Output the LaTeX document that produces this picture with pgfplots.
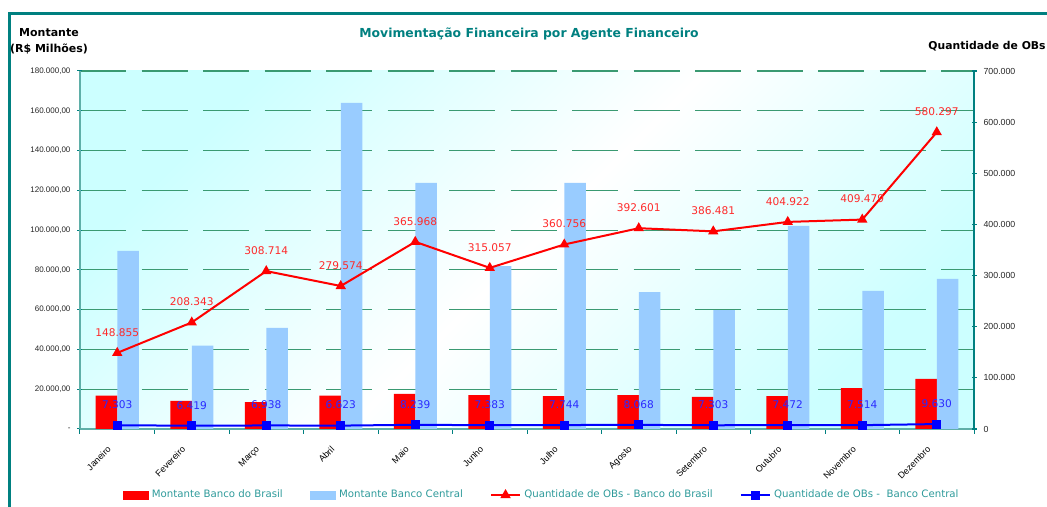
\documentclass[border=0pt]{standalone}
\usepackage{fontspec}
\setmainfont{DejaVu Sans}
\newfontfamily\lib{Liberation Sans}
\usepackage{pgfplots}
\pgfplotsset{compat=1.18}

\definecolor{tealf}{HTML}{008080}
\definecolor{axc}{HTML}{5FAFA8}
\definecolor{gridc}{HTML}{3A9A72}
\definecolor{lblue}{HTML}{99CCFF}
\definecolor{bgc}{HTML}{CCFFFF}
\definecolor{legc}{HTML}{2E9A9A}
\definecolor{lred}{HTML}{FF2A2A}
\definecolor{lblu}{HTML}{2A2AFF}

% 1px of the reference = 0.5pt here
\pgfplotsset{
  common/.style={
    at={(40pt,39pt)}, anchor=south west,
    width=447pt, height=179pt, scale only axis,
    xmin=-0.5, xmax=11.5, scaled y ticks=false,
  },
  barleg/.style={legend image code/.code={\fill[##1] (0pt,-2.25pt) rectangle (13pt,2.25pt);}},
  lineleg/.style={legend image code/.code={\draw[mark repeat=2, mark phase=2, ##1] plot coordinates {(0pt,0pt) (7.25pt,0pt) (14.5pt,0pt)};}},
}

\begin{document}
\begin{tikzpicture}
% outer frame
\draw[tealf, line width=1.2pt] (4.75pt,-10pt) |- (540pt,246.75pt);

% bars, left axis
\begin{axis}[common,
  ymin=0, ymax=180000,
  axis x line*=bottom, axis y line*=left,
  axis line style={draw=axc, line width=0.6pt},
  axis background/.style={top color=bgc, bottom color=bgc, middle color=white, shading angle=45},
  ytick={0,20000,...,180000},
  yticklabels={{-},{20.000,00},{40.000,00},{60.000,00},{80.000,00},{100.000,00},{120.000,00},{140.000,00},{160.000,00},{180.000,00}},
  yticklabel style={font=\lib\fontsize{4}{4}\selectfont, text=black!85},
  xtick={-0.5,0.5,...,11.5}, xticklabels={},
  tick align=center, major tick length=2.5pt,
  tick style={draw=tealf, line width=0.5pt},
  ymajorgrids,
  every axis grid/.style={draw=gridc, line width=0.6pt, dash pattern=on 23pt off 7.75pt},
  every major grid/.style={draw=gridc, line width=0.6pt, dash pattern=on 23pt off 7.75pt},
  ybar=0pt, bar width=10.75pt,
]
\addplot[fill=red, draw=none] coordinates {
  (0,16740) (1,14080) (2,13570) (3,16740) (4,17600) (5,17090)
  (6,16590) (7,17090) (8,16090) (9,16590) (10,20610) (11,25140)};
\addplot[fill=lblue, draw=none] coordinates {
  (0,89500) (1,41880) (2,50780) (3,163910) (4,123690) (5,81950)
  (6,123690) (7,68880) (8,59830) (9,102070) (10,69390) (11,75420)};
\end{axis}

% lines, right axis
\begin{axis}[common,
  ymin=0, ymax=700000,
  axis y line*=right, axis x line=none,
  axis line style={draw=tealf, line width=0.9pt},
  ytick={0,100000,...,700000},
  yticklabels={0,{100.000},{200.000},{300.000},{400.000},{500.000},{600.000},{700.000}},
  yticklabel style={font=\lib\fontsize{4.4}{5}\selectfont, text=black!85},
  tick align=center, major tick length=2.5pt,
  tick style={draw=tealf, line width=0.6pt},
  /pgf/number format/fixed, /pgf/number format/precision=0,
  /pgf/number format/1000 sep={.}, /pgf/number format/assume math mode=true,
  lineleg,
  legend style={at={(0.517,-0.1844)}, anchor=center, legend columns=4,
    draw=none, fill=none, font=\fontsize{5.1}{6}\selectfont, text=legc,
    /tikz/every even column/.append style={column sep=12pt},
    nodes={inner xsep=1.6pt}},
]
\addlegendimage{fill=red, draw=none, barleg}
\addlegendentry{Montante Banco do Brasil}
\addlegendimage{fill=lblue, draw=none, barleg}
\addlegendentry{Montante Banco Central}
\addplot[red, line width=1pt, mark=triangle*, mark size=2pt,
  nodes near coords, every node near coord/.append style={font=\fontsize{5.3}{6}\selectfont, text=lred, anchor=center, yshift=10.25pt}]
  coordinates {
  (0,148855) (1,208343) (2,308714) (3,279574) (4,365968) (5,315057)
  (6,360756) (7,392601) (8,386481) (9,404922) (10,409479) (11,580297)};
\addlegendentry{Quantidade de OBs - Banco do Brasil}
\addplot[blue, line width=1pt, mark=square*, mark size=1.75pt,
  nodes near coords, every node near coord/.append style={font=\fontsize{5.3}{6}\selectfont, text=lblu, anchor=center, yshift=10.25pt}]
  coordinates {
  (0,7303) (1,6419) (2,6938) (3,6623) (4,8239) (5,7383)
  (6,7744) (7,8068) (8,7303) (9,7472) (10,7514) (11,9630)};
\addlegendentry{Quantidade de OBs -\ \ Banco Central}
\end{axis}

% month labels
\begin{axis}[common,
  ymin=0, ymax=1,
  axis y line=none, axis x line*=bottom, x axis line style={draw=none},
  xtick={0,...,11}, major tick length=0pt,
  xticklabels={Janeiro,Fevereiro,Março,Abril,Maio,Junho,Julho,Agosto,Setembro,Outubro,Novembro,Dezembro},
  xticklabel style={xshift=-1.5pt, yshift=-7pt, rotate=45, anchor=east, font=\lib\fontsize{4.5}{5}\selectfont, text=black},
]
\end{axis}

% titles
\node[font=\bfseries\fontsize{6.2}{7}\selectfont, text=tealf] at (264.5pt,236.5pt) {Movimentação Financeira por Agente Financeiro};
\node[font=\bfseries\fontsize{5.5}{6}\selectfont] at (24.5pt,237pt) {Montante};
\node[font=\bfseries\fontsize{5.5}{6}\selectfont] at (24.5pt,229pt) {(R\$ Milhões)};
\node[font=\bfseries\fontsize{5.4}{6}\selectfont] at (493.5pt,230.5pt) {Quantidade de OBs};

\pgfresetboundingbox
\useasboundingbox (0,0) rectangle (523.5pt,253.5pt);
\end{tikzpicture}
\end{document}
